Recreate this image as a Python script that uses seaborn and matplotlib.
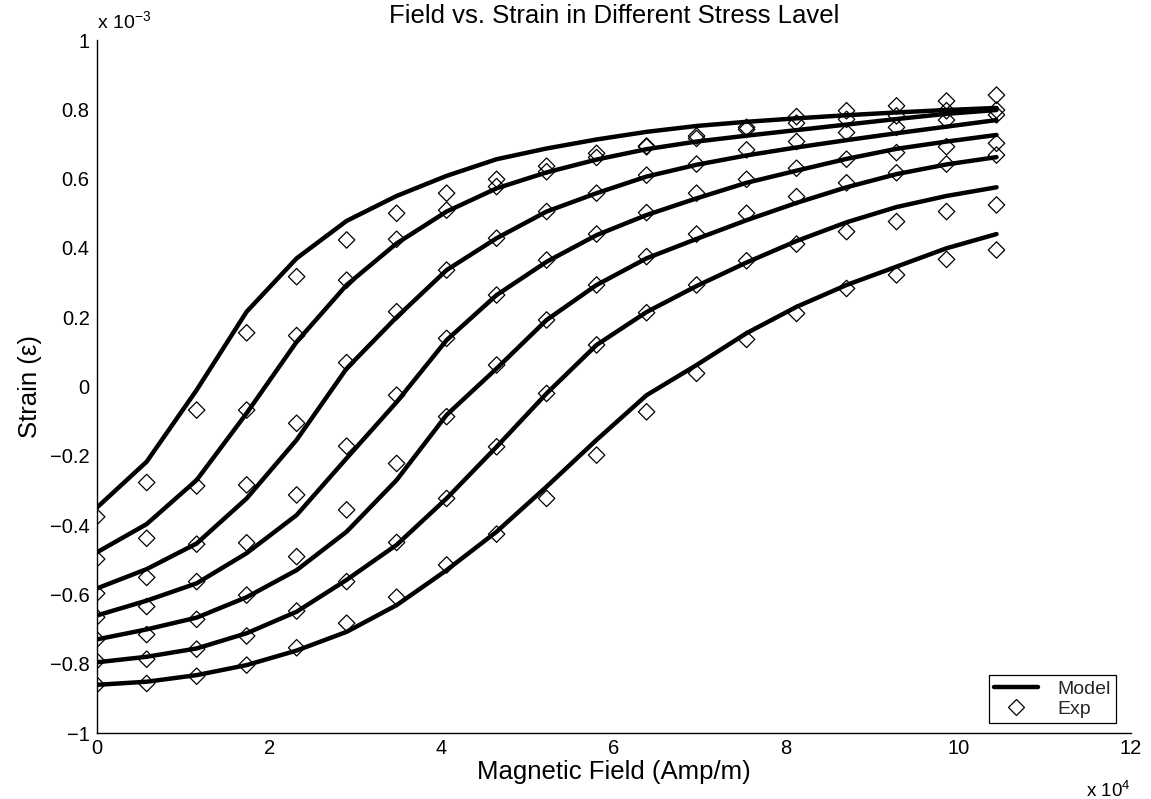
import matplotlib
matplotlib.use("Agg")
import matplotlib.pyplot as plt
from matplotlib.lines import Line2D
from matplotlib.ticker import FuncFormatter
import numpy as np
import pandas as pd
import seaborn as sns

# Magnetic field (units of 1e4 A/m)
field = [0.00, 0.58, 1.16, 1.74, 2.32, 2.90, 3.48, 4.06, 4.64, 5.22,
         5.80, 6.38, 6.96, 7.54, 8.12, 8.70, 9.28, 9.86, 10.44]

# Model strain curves, one per stress level (units of 1e-3)
model_1 = [-0.350, -0.217, -0.010, 0.216, 0.370, 0.478, 0.550, 0.608, 0.656, 0.687,
           0.713, 0.735, 0.752, 0.764, 0.774, 0.783, 0.791, 0.798, 0.804]
model_2 = [-0.479, -0.397, -0.270, -0.077, 0.129, 0.293, 0.413, 0.505, 0.572, 0.618,
           0.655, 0.685, 0.707, 0.724, 0.740, 0.756, 0.772, 0.787, 0.798]
model_3 = [-0.583, -0.527, -0.453, -0.323, -0.154, 0.052, 0.200, 0.336, 0.428, 0.505,
           0.558, 0.606, 0.640, 0.667, 0.690, 0.711, 0.731, 0.750, 0.769]
model_4 = [-0.661, -0.618, -0.568, -0.481, -0.371, -0.207, -0.045, 0.134, 0.264, 0.360,
           0.437, 0.495, 0.543, 0.588, 0.623, 0.657, 0.686, 0.707, 0.726]
model_5 = [-0.730, -0.701, -0.667, -0.608, -0.530, -0.419, -0.270, -0.082, 0.052, 0.192,
           0.293, 0.370, 0.426, 0.480, 0.530, 0.575, 0.613, 0.641, 0.662]
model_6 = [-0.796, -0.780, -0.756, -0.712, -0.650, -0.558, -0.457, -0.323, -0.174, -0.020,
           0.120, 0.215, 0.290, 0.358, 0.420, 0.474, 0.518, 0.550, 0.575]
model_7 = [-0.861, -0.852, -0.833, -0.804, -0.762, -0.708, -0.631, -0.530, -0.419, -0.289,
           -0.154, -0.025, 0.062, 0.154, 0.230, 0.293, 0.346, 0.399, 0.440]

# Measured strain, one series per stress level (units of 1e-3)
exp_1 = [-0.376, -0.277, -0.068, 0.155, 0.317, 0.423, 0.500, 0.558, 0.598, 0.636,
         0.673, 0.694, 0.723, 0.748, 0.779, 0.796, 0.810, 0.824, 0.841]
exp_2 = [-0.498, -0.438, -0.287, -0.068, 0.147, 0.307, 0.425, 0.509, 0.577, 0.620,
         0.661, 0.692, 0.716, 0.742, 0.760, 0.771, 0.781, 0.796, 0.798]
exp_3 = [-0.597, -0.551, -0.455, -0.284, -0.106, 0.069, 0.216, 0.336, 0.428, 0.505,
         0.558, 0.610, 0.642, 0.683, 0.707, 0.733, 0.748, 0.769, 0.784]
exp_4 = [-0.666, -0.635, -0.563, -0.451, -0.313, -0.172, -0.025, 0.139, 0.264, 0.365,
         0.440, 0.502, 0.558, 0.598, 0.630, 0.656, 0.675, 0.692, 0.702]
exp_5 = [-0.730, -0.716, -0.672, -0.602, -0.491, -0.356, -0.222, -0.087, 0.062, 0.192,
         0.293, 0.375, 0.440, 0.500, 0.548, 0.588, 0.617, 0.642, 0.668]
exp_6 = [-0.792, -0.787, -0.758, -0.720, -0.648, -0.563, -0.450, -0.323, -0.174, -0.020,
         0.120, 0.213, 0.293, 0.363, 0.411, 0.447, 0.476, 0.505, 0.524]
exp_7 = [-0.861, -0.857, -0.836, -0.804, -0.754, -0.683, -0.608, -0.515, -0.426, -0.323,
         -0.198, -0.073, 0.038, 0.136, 0.211, 0.283, 0.322, 0.367, 0.394]

model_curves = [model_1, model_2, model_3, model_4, model_5, model_6, model_7]
exp_curves = [exp_1, exp_2, exp_3, exp_4, exp_5, exp_6, exp_7]

x_ticks = [0, 2, 4, 6, 8, 10, 12]
y_ticks = [-1, -0.8, -0.6, -0.4, -0.2, 0, 0.2, 0.4, 0.6, 0.8, 1]


def long_form(curves):
    frames = []
    for level, values in enumerate(curves, start=1):
        frames.append(pd.DataFrame({"field": field, "strain": values, "level": level}))
    return pd.concat(frames, ignore_index=True)


model_df = long_form(model_curves)
exp_df = long_form(exp_curves)

sns.set_theme(style="white")
plt.rcParams["font.family"] = ["Liberation Sans", "DejaVu Sans"]
plt.rcParams["axes.unicode_minus"] = True

fig = plt.figure(figsize=(11.51, 7.99), dpi=100)
ax = fig.add_axes([0.0840, 0.0826, 0.8986, 0.8673])

sns.lineplot(data=model_df, x="field", y="strain", units="level", estimator=None,
             sort=False, color="black", linewidth=3.2, legend=False, ax=ax)
sns.scatterplot(data=exp_df, x="field", y="strain", marker="D", s=70,
                color="black", facecolor="none", edgecolor="black",
                linewidth=0.9, legend=False, ax=ax, zorder=3)

ax.set_xlim(0, 12)
ax.set_ylim(-1, 1)
ax.set_xticks(x_ticks)
ax.set_yticks(y_ticks)


def fmt(v, _pos):
    v = round(v, 6)
    if v == 0:
        v = 0.0
    return f"{v:g}".replace("-", "\u2212")


ax.xaxis.set_major_formatter(FuncFormatter(fmt))
ax.yaxis.set_major_formatter(FuncFormatter(fmt))

for side in ("top", "right"):
    ax.spines[side].set_visible(False)
for side in ("left", "bottom"):
    ax.spines[side].set_color("black")
    ax.spines[side].set_linewidth(1.0)

ax.tick_params(axis="both", direction="in", length=7.5, width=0.9,
               colors="black", labelsize=14.5, pad=5)
ax.tick_params(axis="x", pad=4)

ax.set_xlabel("Magnetic Field (Amp/m)", fontsize=18.5, labelpad=2, color="black")
ax.set_ylabel("Strain (\u03b5)", fontsize=18.5, labelpad=6, color="black")
ax.set_title("Field vs. Strain in Different Stress Lavel", fontsize=18.5,
             pad=12, color="black")

# axis multipliers
ax.text(0.0, 1.01, "x 10$^{\\mathregular{-3}}$", transform=ax.transAxes,
        fontsize=14, ha="left", va="bottom", color="black")
ax.text(1.0, -0.068, "x 10$^{\\mathregular{4}}$", transform=ax.transAxes,
        fontsize=13.5, ha="right", va="top", color="black")

handles = [
    Line2D([], [], color="black", linewidth=3.2),
    Line2D([], [], color="black", linestyle="none", marker="D", markersize=8.4,
           markerfacecolor="none", markeredgewidth=0.9),
]
leg = ax.legend(handles, ["Model", "Exp"], loc="lower right",
                bbox_to_anchor=(0.9855, 0.0144), borderaxespad=0,
                fontsize=14, handlelength=2.3, handletextpad=1.0,
                fancybox=False, framealpha=1,
                edgecolor="black", borderpad=0.25, labelspacing=0.15)
leg.get_frame().set_linewidth(0.9)

ax.grid(False)
fig.savefig("out.png", dpi=100, facecolor="white")
